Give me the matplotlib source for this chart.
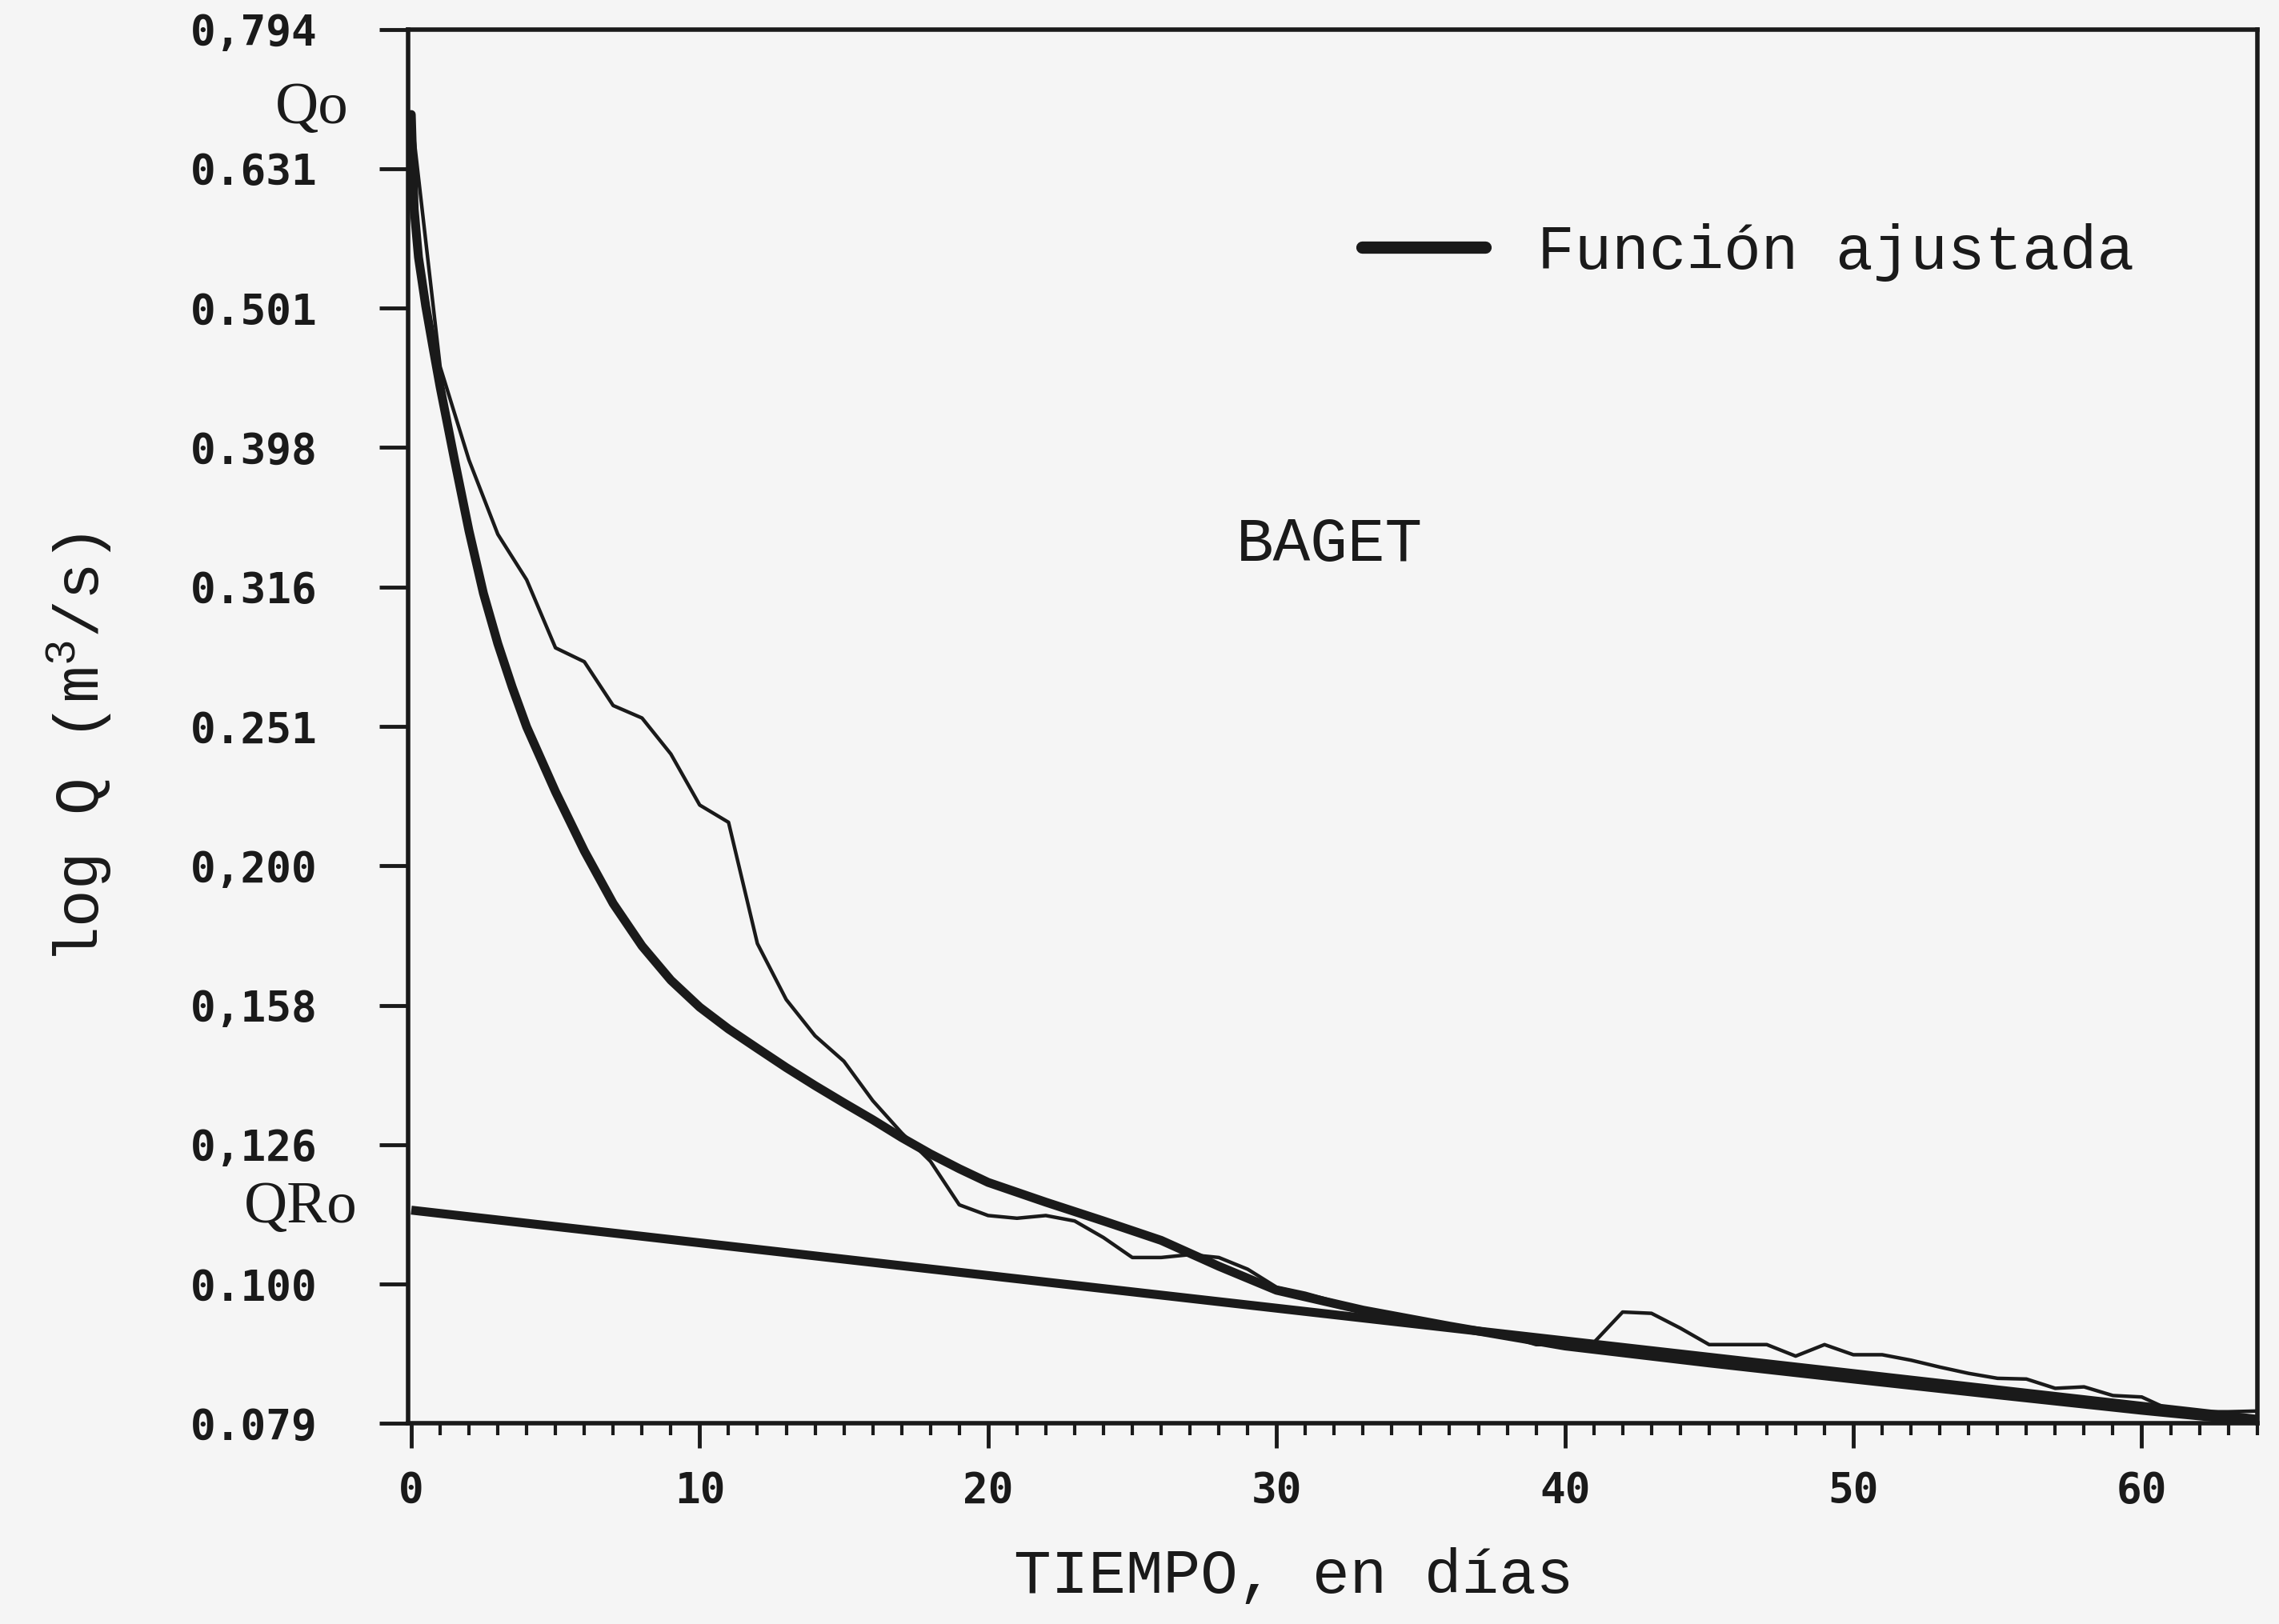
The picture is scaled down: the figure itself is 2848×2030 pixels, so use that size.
import matplotlib
matplotlib.use("Agg")
import matplotlib.pyplot as plt
from matplotlib.lines import Line2D
from matplotlib.ticker import FixedLocator, NullLocator, MultipleLocator

# observed daily discharge (m3/s), days 0..64
dias = list(range(65))
caudal_obs = [0.69, 0.455, 0.39, 0.345, 0.320, 0.286, 0.2795, 0.260, 0.2547, 0.240,
              0.2206, 0.2144, 0.1755, 0.160, 0.1507, 0.1445, 0.1354, 0.1284, 0.1225, 0.114,
              0.112, 0.1115, 0.112, 0.111, 0.108, 0.1045, 0.1045, 0.105, 0.1045, 0.1025,
              0.0995, 0.0985, 0.0972, 0.096, 0.095, 0.094, 0.0932, 0.0925, 0.0918, 0.0905,
              0.0905, 0.0908, 0.0955, 0.0953, 0.093, 0.0905, 0.0905, 0.0905, 0.0888, 0.0905,
              0.089, 0.089, 0.0882, 0.0872, 0.0863, 0.0856, 0.0855, 0.0842, 0.0844, 0.0832,
              0.083, 0.0812, 0.081, 0.081, 0.0811]

# fitted function (Funcion ajustada)
t_ajuste = [0, 0.1, 0.25, 0.5, 0.75, 1.0, 1.5, 2, 2.5, 3, 3.5, 4, 5, 6, 7, 8, 9, 10,
            11, 12, 13, 14, 15, 16, 17, 18, 19, 20, 22, 24, 26, 28, 30, 33, 36, 40,
            45, 50, 55, 60, 64]
q_ajuste = [0.69, 0.59, 0.545, 0.503, 0.47, 0.44, 0.39, 0.347, 0.313, 0.288, 0.268,
            0.251, 0.2255, 0.2045, 0.1875, 0.1748, 0.1652, 0.158, 0.1524, 0.1476, 0.143,
            0.1388, 0.1349, 0.1312, 0.1274, 0.124, 0.121, 0.1183, 0.1145, 0.111, 0.1075,
            0.103, 0.099, 0.0958, 0.0933, 0.0903, 0.0878, 0.0855, 0.0833, 0.0812,
            0.0797]

# baseflow recession line (QRo at t=0)
t_base = [0, 64]
q_base = [0.113, 0.080]

ytick_vals = [10 ** (-1.1), 0.1, 10 ** (-0.9), 10 ** (-0.8), 10 ** (-0.7), 10 ** (-0.6),
              10 ** (-0.5), 10 ** (-0.4), 10 ** (-0.3), 10 ** (-0.2), 10 ** (-0.1)]
ytick_labels = ["0.079", "0.100", "0,126", "0,158", "0,200", "0.251", "0.316",
                "0.398", "0.501", "0.631", "0,794"]
xtick_vals = [0, 10, 20, 30, 40, 50, 60]

bg = "#f5f5f5"
ink = "#1a1a1a"
mono = "Liberation Mono"

plt.rcParams["mathtext.fontset"] = "custom"
plt.rcParams["mathtext.rm"] = mono
plt.rcParams["mathtext.it"] = mono

fig = plt.figure(figsize=(28.48, 20.30), dpi=100, facecolor=bg)
ax = fig.add_axes([0.1792, 0.1234, 0.8112, 0.8586], facecolor=bg)

ax.plot(dias, caudal_obs, color=ink, lw=3.2, solid_joinstyle="round")
ax.plot(t_ajuste, q_ajuste, color=ink, lw=8, solid_capstyle="round")
ax.plot(t_base, q_base, color=ink, lw=8, solid_capstyle="butt")

ax.set_yscale("log")
ax.set_ylim(10 ** (-1.1), 10 ** (-0.1))
ax.set_xlim(-0.1, 64)

ax.yaxis.set_major_locator(FixedLocator(ytick_vals))
ax.yaxis.set_minor_locator(NullLocator())
ax.set_yticklabels(ytick_labels)
ax.xaxis.set_major_locator(FixedLocator(xtick_vals))
ax.xaxis.set_minor_locator(MultipleLocator(1))
ax.set_xticklabels([str(v) for v in xtick_vals])

for s in ax.spines.values():
    s.set_linewidth(4)
    s.set_color(ink)

ax.tick_params(axis="y", which="major", direction="out", length=26, width=3.5,
               pad=56, colors=ink, labelsize=38)
ax.tick_params(axis="x", which="major", direction="out", length=22, width=3.5,
               pad=20, colors=ink, labelsize=38)
ax.tick_params(axis="x", which="minor", direction="out", length=11, width=3,
               colors=ink)
for lab in ax.get_xticklabels() + ax.get_yticklabels():
    lab.set_fontfamily("DejaVu Sans Mono")
    lab.set_fontweight("bold")

fig.text(0.5676, 0.0295, "TIEMPO, en días", family=mono, fontsize=56,
         ha="center", va="center", color=ink)
fig.text(0.035, 0.539, r"log Q (m$^{3}$/s)", family=mono, fontsize=56,
         ha="center", va="center", rotation=90, color=ink)

fig.text(0.137, 0.933, "Qo", family="Liberation Serif", fontsize=54,
         ha="center", va="center", color=ink)
fig.text(0.132, 0.256, "QRo", family="Liberation Serif", fontsize=54,
         ha="center", va="center", color=ink)
fig.text(0.5835, 0.6646, "BAGET", family=mono, fontsize=56,
         ha="center", va="center", color=ink)

handle = Line2D([], [], color=ink, lw=11, solid_capstyle="round")
ax.legend([handle], ["Función ajustada"], loc="center left",
          bbox_to_anchor=(0.5976, 0.8444), bbox_transform=fig.transFigure,
          frameon=False, borderpad=0, borderaxespad=0, handlelength=1.98,
          handletextpad=0.84, prop={"family": mono, "size": 56},
          labelcolor=ink)

fig.savefig("out.png", dpi=100, facecolor=bg)
